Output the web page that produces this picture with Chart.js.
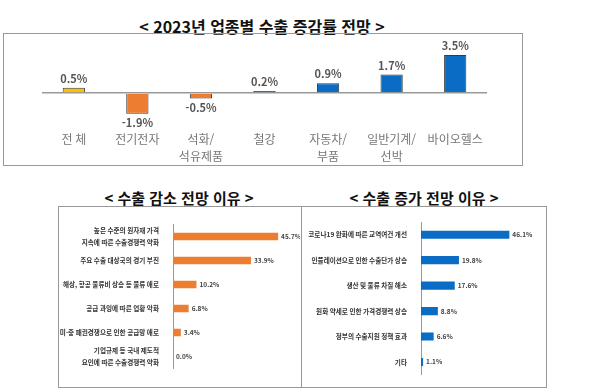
<!DOCTYPE html>
<html lang="ko">
<head>
<meta charset="utf-8">
<script src="https://cdn.jsdelivr.net/npm/chart.js@4"></script>
<style>
    body { margin: 0; width: 600px; height: 392px; background: #fff; position: relative; overflow: hidden;
           font-family: "Noto Sans CJK KR", "Noto Sans", sans-serif; }
    .box { position: absolute; border: 1px solid #999; box-sizing: border-box; }
    .title { position: absolute; font-weight: bold; color: #111; white-space: nowrap; transform: translateX(-50%); }
    canvas { position: absolute; }
</style>
</head>
<body>
<div class="title" style="left:262px; top:14px; font-size:16px;">&lt; 2023년 업종별 수출 증감률 전망 &gt;</div>
<div class="box" style="left:3px; top:33px; width:520px; height:133px;"></div>
<canvas id="topChart" width="519" height="143" style="left:3px; top:33px;"></canvas>

<div class="title" style="left:179px; top:187px; font-size:15px;">&lt; 수출 감소 전망 이유 &gt;</div>
<div class="box" style="left:58px; top:206px; width:244px; height:182px;"></div>
<canvas id="decreaseChart" width="242" height="181" style="left:58px; top:206px;"></canvas>

<div class="title" style="left:424px; top:187px; font-size:15px;">&lt; 수출 증가 전망 이유 &gt;</div>
<div class="box" style="left:301px; top:206px; width:246px; height:182px;"></div>
<canvas id="increaseChart" width="244" height="181" style="left:302px; top:206px;"></canvas>

<script>
// 업종별 수출 증감률 (%)
const topCategories = [['전 체'], ['전기전자'], ['석화/', '석유제품'], ['철강'], ['자동차/', '부품'], ['일반기계/', '선박'], ['바이오헬스']];
const topValues = [0.5, -1.9, -0.5, 0.2, 0.9, 1.7, 3.5];

// 수출 감소 전망 이유 (%)
const decreaseReasons = [
    ['높은 수준의 원자재 가격', '지속에 따른 수출경쟁력 약화'],
    '주요 수출 대상국의 경기 부진',
    '해상, 항공 물류비 상승 등 물류 애로',
    '공급 과잉에 따른 업황 악화',
    '미·중 패권경쟁으로 인한 공급망 애로',
    ['기업규제 등 국내 제도적', '요인에 따른 수출경쟁력 약화']
];
const decreaseValues = [45.7, 33.9, 10.2, 6.8, 3.4, 0.0];

// 수출 증가 전망 이유 (%)
const increaseReasons = [
    '코로나19 완화에 따른 교역여건 개선',
    '인플레이션으로 인한 수출단가 상승',
    '생산 및 물류 차질 해소',
    '원화 약세로 인한 가격경쟁력 상승',
    '정부의 수출지원 정책 효과',
    '기타'
];
const increaseValues = [46.1, 19.8, 17.6, 8.8, 6.6, 1.1];

const YELLOW = '#FFC000';
const ORANGE = '#ED7D31';
const BLUE = '#0A6CC4';
const FONT = '"Noto Sans CJK KR", "Noto Sans", sans-serif';

// 막대 끝에 값 표시
const valueLabels = {
    id: 'valueLabels',
    afterDatasetsDraw(chart, args, opts) {
        const ctx = chart.ctx;
        const meta = chart.getDatasetMeta(0);
        const values = chart.data.datasets[0].data;
        ctx.save();
        ctx.font = 'bold ' + opts.size + 'px ' + FONT;
        ctx.fillStyle = opts.color;
        meta.data.forEach((bar, i) => {
            const v = values[i];
            const text = v.toFixed(1) + '%';
            if (chart.options.indexAxis === 'y') {
                ctx.textAlign = 'left';
                ctx.textBaseline = 'middle';
                ctx.fillText(text, bar.x + opts.offset, bar.y);
            } else {
                ctx.textAlign = 'center';
                ctx.textBaseline = 'middle';
                ctx.fillText(text, bar.x, v >= 0 ? bar.y - opts.offset : bar.y + opts.offset);
            }
        });
        ctx.restore();
    }
};

new Chart(document.getElementById('topChart'), {
    type: 'bar',
    data: {
        labels: topCategories,
        datasets: [{
            data: topValues,
            backgroundColor: topValues.map((v, i) => i === 0 ? YELLOW : (v < 0 ? ORANGE : BLUE)),
            borderColor: '#3a3a3a',
            borderWidth: 1,
            barPercentage: 0.35,
            categoryPercentage: 1
        }]
    },
    options: {
        responsive: false,
        animation: false,
        layout: { padding: { left: 39, right: 35, top: 11, bottom: 0 } },
        plugins: {
            legend: { display: false },
            tooltip: { enabled: false },
            valueLabels: { size: 11, color: '#555', offset: 9 }
        },
        scales: {
            x: {
                grid: { display: false, drawTicks: false },
                border: { display: false },
                ticks: { color: '#777', font: { family: FONT, size: 12, lineHeight: 1.4 }, padding: 11, maxRotation: 0, autoSkip: false }
            },
            y: {
                min: -2.5,
                max: 4.5,
                ticks: { display: false, stepSize: 0.5 },
                border: { display: false },
                grid: {
                    drawTicks: false,
                    color: c => c.tick && c.tick.value === 0 ? '#999' : 'rgba(0,0,0,0)',
                    lineWidth: 1.5
                }
            }
        }
    },
    plugins: [valueLabels]
});

function reasonChart(id, labels, values, color, max, axisWidth, rightPad) {
    return new Chart(document.getElementById(id), {
        type: 'bar',
        data: {
            labels: labels,
            datasets: [{
                data: values,
                backgroundColor: color,
                barPercentage: 0.32,
                categoryPercentage: 1
            }]
        },
        options: {
            indexAxis: 'y',
            responsive: false,
            animation: false,
            layout: { padding: { left: 0, right: rightPad, top: 16, bottom: 10 } },
            plugins: {
                legend: { display: false },
                tooltip: { enabled: false },
                valueLabels: { size: 6.5, color: '#444', offset: 3 }
            },
            scales: {
                x: { display: false, min: 0, max: max },
                y: {
                    grid: { display: false },
                    border: { display: true, color: '#999', width: 1 },
                    ticks: { color: '#333', autoSkip: false, font: { family: FONT, size: 6.6, weight: 'bold', lineHeight: 1.9 }, padding: 6 },
                    afterFit: s => { s.width = axisWidth; }
                }
            }
        },
        plugins: [valueLabels]
    });
}

reasonChart('decreaseChart', decreaseReasons, decreaseValues, ORANGE, 50, 115, 12);
reasonChart('increaseChart', increaseReasons, increaseValues, BLUE, 60, 119, 10);
</script>
</body>
</html>
